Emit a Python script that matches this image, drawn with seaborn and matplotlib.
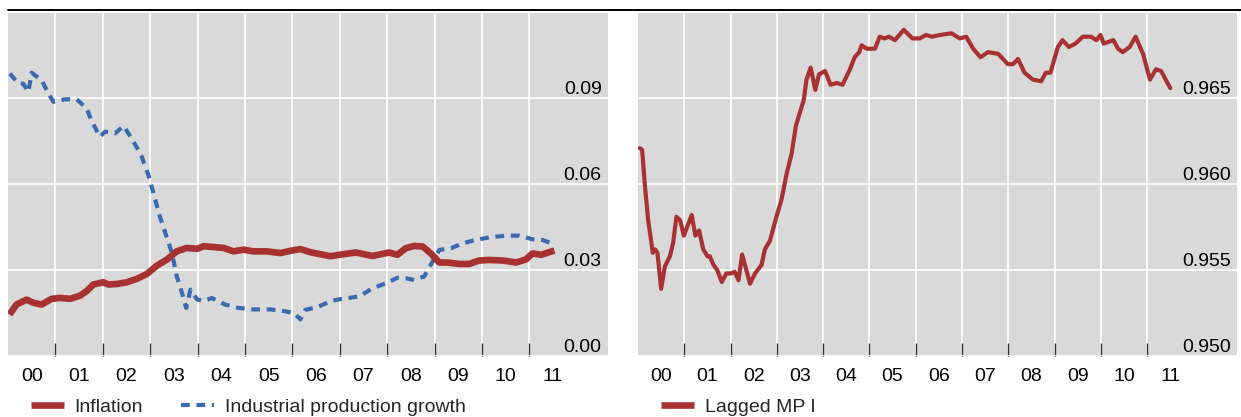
import numpy as np
import pandas as pd
import matplotlib.pyplot as plt
import seaborn as sns
from matplotlib.lines import Line2D

# dates as decimal years
infl_t = [2000.03, 2000.18, 2000.39, 2000.54, 2000.71, 2000.92, 2001.10, 2001.31, 2001.52,
          2001.66, 2001.80, 2002.01, 2002.12, 2002.30, 2002.51, 2002.72, 2002.93, 2003.14,
          2003.35, 2003.56, 2003.77, 2003.99, 2004.13, 2004.34, 2004.55, 2004.76, 2004.97,
          2005.18, 2005.46, 2005.75, 2005.96, 2006.17, 2006.38, 2006.59, 2006.80, 2006.99,
          2007.34, 2007.69, 2008.04, 2008.22, 2008.39, 2008.57, 2008.75, 2008.92, 2009.10,
          2009.27, 2009.52, 2009.73, 2009.94, 2010.15, 2010.44, 2010.72, 2010.93, 2011.07,
          2011.25, 2011.53]
infl_v = [0.0144, 0.0179, 0.0196, 0.0185, 0.0179, 0.0199, 0.0202, 0.0199, 0.0210,
          0.0226, 0.0249, 0.0257, 0.0249, 0.0251, 0.0257, 0.0269, 0.0286, 0.0315,
          0.0336, 0.0365, 0.0377, 0.0374, 0.0383, 0.0380, 0.0377, 0.0365, 0.0371,
          0.0365, 0.0365, 0.0359, 0.0367, 0.0373, 0.0362, 0.0355, 0.0348, 0.0353,
          0.0361, 0.0349, 0.0361, 0.0353, 0.0376, 0.0384, 0.0382, 0.0358, 0.0326,
          0.0326, 0.0321, 0.0321, 0.0333, 0.0335, 0.0333, 0.0326, 0.0337, 0.0358,
          0.0353, 0.0368]

ip_t = [2000.04, 2000.22, 2000.32, 2000.43, 2000.50, 2000.71, 2000.85, 2000.96, 2001.20,
        2001.45, 2001.66, 2001.77, 2001.94, 2002.05, 2002.26, 2002.44, 2002.65, 2002.82,
        2002.96, 2003.07, 2003.18, 2003.32, 2003.46, 2003.56, 2003.67, 2003.76, 2003.85,
        2003.99, 2004.13, 2004.30, 2004.58, 2004.87, 2005.18, 2005.54, 2005.82, 2006.03,
        2006.17, 2006.27, 2006.52, 2006.85, 2007.13, 2007.41, 2007.69, 2007.97, 2008.22,
        2008.39, 2008.57, 2008.78, 2008.92, 2009.10, 2009.35, 2009.59, 2009.87, 2010.15,
        2010.51, 2010.79, 2011.07, 2011.28, 2011.49]
ip_v = [0.0987, 0.0952, 0.0952, 0.0923, 0.0990, 0.0964, 0.0918, 0.0888, 0.0897,
        0.0897, 0.0865, 0.0819, 0.0766, 0.0784, 0.0778, 0.0804, 0.0749, 0.0697,
        0.0633, 0.0569, 0.0499, 0.0429, 0.0359, 0.0278, 0.0220, 0.0167, 0.0231,
        0.0197, 0.0191, 0.0202, 0.0179, 0.0167, 0.0162, 0.0162, 0.0156, 0.0150,
        0.0127, 0.0160, 0.0170, 0.0193, 0.0201, 0.0207, 0.0236, 0.0253, 0.0273,
        0.0271, 0.0265, 0.0277, 0.0318, 0.0370, 0.0376, 0.0393, 0.0405, 0.0414,
        0.0420, 0.0420, 0.0407, 0.0405, 0.0391]

mpi_t = [2000.04, 2000.09, 2000.15, 2000.22, 2000.32, 2000.37, 2000.42, 2000.50, 2000.58,
         2000.69, 2000.76, 2000.83, 2000.91, 2000.99, 2001.09, 2001.16, 2001.24, 2001.32,
         2001.41, 2001.50, 2001.55, 2001.63, 2001.71, 2001.81, 2001.91, 2002.02, 2002.09,
         2002.17, 2002.25, 2002.33, 2002.42, 2002.53, 2002.67, 2002.74, 2002.85, 2002.99,
         2003.10, 2003.21, 2003.32, 2003.41, 2003.50, 2003.58, 2003.64, 2003.73, 2003.83,
         2003.91, 2004.04, 2004.16, 2004.29, 2004.42, 2004.58, 2004.68, 2004.78, 2004.83,
         2004.94, 2005.12, 2005.22, 2005.33, 2005.42, 2005.55, 2005.74, 2005.93, 2006.09,
         2006.22, 2006.35, 2006.52, 2006.77, 2006.95, 2007.09, 2007.24, 2007.40, 2007.56,
         2007.78, 2007.99, 2008.10, 2008.21, 2008.35, 2008.53, 2008.71, 2008.81, 2008.91,
         2009.07, 2009.17, 2009.31, 2009.45, 2009.61, 2009.79, 2009.90, 2009.99, 2010.06,
         2010.27, 2010.37, 2010.47, 2010.62, 2010.75, 2010.91, 2011.06, 2011.19, 2011.30,
         2011.50]
mpi_v = [0.9621, 0.9620, 0.9599, 0.9579, 0.9560, 0.9562, 0.9560, 0.9539, 0.9552,
         0.9558, 0.9566, 0.9581, 0.9579, 0.9570, 0.9577, 0.9582, 0.9570, 0.9573,
         0.9562, 0.9558, 0.9558, 0.9553, 0.9550, 0.9543, 0.9548, 0.9548, 0.9549,
         0.9544, 0.9559, 0.9551, 0.9542, 0.9548, 0.9553, 0.9562, 0.9567, 0.9581,
         0.9591, 0.9606, 0.9618, 0.9634, 0.9642, 0.9649, 0.9661, 0.9668, 0.9655,
         0.9664, 0.9666, 0.9658, 0.9659, 0.9658, 0.9667, 0.9674, 0.9677, 0.9681,
         0.9679, 0.9679, 0.9686, 0.9685, 0.9686, 0.9684, 0.9690, 0.9685, 0.9685,
         0.9687, 0.9686, 0.9687, 0.9688, 0.9685, 0.9686, 0.9679, 0.9674, 0.9677,
         0.9676, 0.9670, 0.9670, 0.9673, 0.9665, 0.9661, 0.9660, 0.9665, 0.9665,
         0.9680, 0.9684, 0.9680, 0.9682, 0.9686, 0.9686, 0.9684, 0.9687, 0.9682,
         0.9684, 0.9679, 0.9677, 0.9680, 0.9686, 0.9676, 0.9661, 0.9667, 0.9666,
         0.9656]

years = list(range(2000, 2012))
year_labels = [f"{y % 100:02d}" for y in years]
left_yticks = [0.00, 0.03, 0.06, 0.09]
right_yticks = [0.950, 0.955, 0.960, 0.965]

RED = "#A83232"
BLUE = "#3A6BB0"
BG = "#D9D9D9"
FS = 14
DASH = (0, (2.1, 1.6))

sns.set_theme(style="darkgrid", rc={
    "axes.facecolor": BG,
    "grid.color": "white",
    "grid.linewidth": 1.2,
})
plt.rcParams["font.family"] = ["Liberation Sans", "DejaVu Sans"]

W, H = 1241, 417
fig = plt.figure(figsize=(W / 100, H / 100), dpi=100)
ax1 = fig.add_axes([8 / W, 1 - 355.7 / H, 600 / W, 343 / H])
ax2 = fig.add_axes([638 / W, 1 - 355.7 / H, 599 / W, 343 / H])

infl = pd.DataFrame({"date": infl_t, "value": infl_v})
ip = pd.DataFrame({"date": ip_t, "value": ip_v})
mpi = pd.DataFrame({"date": mpi_t, "value": mpi_v})

sns.lineplot(data=ip, x="date", y="value", ax=ax1, color=BLUE, lw=3.0, linestyle=DASH)
sns.lineplot(data=infl, x="date", y="value", ax=ax1, color=RED, lw=4.8,
             solid_capstyle="butt")
sns.lineplot(data=mpi, x="date", y="value", ax=ax2, color=RED, lw=3.0)


def style_axis(ax, xmax, ylim, yticks, fmt):
    ax.set_xlim(2000, xmax)
    ax.set_ylim(*ylim)
    ax.set_xlabel("")
    ax.set_ylabel("")
    for s in ax.spines.values():
        s.set_visible(False)
    ax.set_xticks(years[1:])
    ax.set_xticklabels([])
    ax.set_xticks([y + 0.5 for y in years], minor=True)
    ax.set_xticklabels(year_labels, minor=True)
    ax.tick_params(axis="x", which="major", direction="in", length=9.5, width=1.0,
                   color="#333333", bottom=True)
    ax.tick_params(axis="x", which="minor", length=0, pad=8.5, labelsize=FS,
                   labelcolor="black")
    ax.grid(True, which="major", axis="both")
    ax.grid(False, which="minor")
    ax.yaxis.tick_right()
    ax.set_yticks(yticks)
    ax.set_yticklabels([fmt.format(v) for v in yticks])
    ax.tick_params(axis="y", direction="in", length=0, pad=-4.5, labelsize=FS,
                   labelcolor="black")
    plt.setp(ax.get_yticklabels(), ha="right", va="bottom")


style_axis(ax1, 2012.66, (0, 0.12), left_yticks, "{:.2f}")
style_axis(ax2, 2012.94, (0.95, 0.97), right_yticks, "{:.3f}")

# rule across the top
fig.add_artist(Line2D([8 / W, 1.0], [1 - 10.3 / H] * 2, color="black", lw=1.4))

h_infl = Line2D([], [], color=RED, lw=4.8, solid_capstyle="butt")
h_ip = Line2D([], [], color=BLUE, lw=3.0, linestyle=DASH)
h_mpi = Line2D([], [], color=RED, lw=4.8, solid_capstyle="butt")

leg_kw = dict(loc="center left", frameon=False, fontsize=FS, handlelength=1.7,
              handletextpad=0.55, columnspacing=1.95, borderpad=0, borderaxespad=0)
fig.legend([h_infl, h_ip], ["Inflation", "Industrial production growth"], ncol=2,
           bbox_to_anchor=(31 / W, 1 - 407 / H), **leg_kw)
fig.legend([h_mpi], ["Lagged MP I"], bbox_to_anchor=(661 / W, 1 - 407 / H), **leg_kw)

fig.savefig("out.png", dpi=100)
